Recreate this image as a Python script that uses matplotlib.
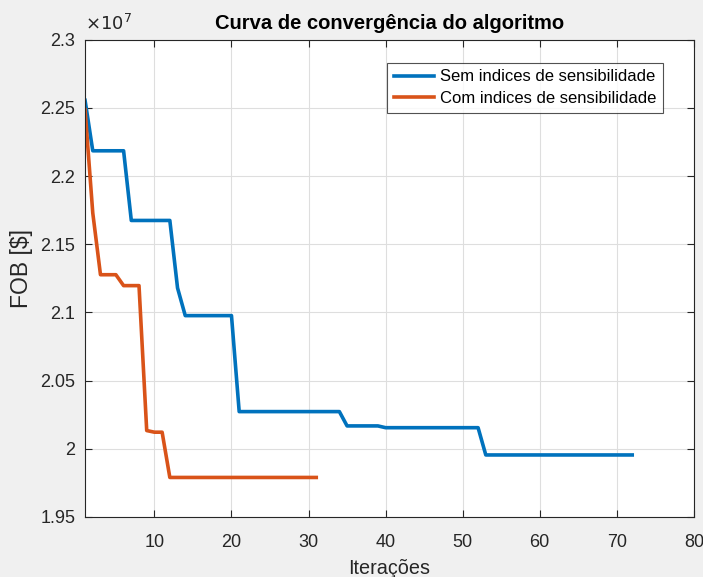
import numpy as np
import matplotlib
matplotlib.use("Agg")
import matplotlib.pyplot as plt
from matplotlib.ticker import FuncFormatter

plt.rcParams['font.family'] = ['Liberation Sans', 'DejaVu Sans']

# Sem indices de sensibilidade (x 1e7)
sem_x = np.arange(1, 73)
sem_y = np.array([2.2556] + [2.2186]*5 + [2.1675]*6 + [2.1180] + [2.0977]*7
                 + [2.0273]*14 + [2.0168]*5 + [2.0155]*13 + [1.9955]*20) * 1e7

# Com indices de sensibilidade (x 1e7)
com_x = np.arange(1, 32)
com_y = np.array([2.2487, 2.1730] + [2.1277]*3 + [2.1197]*3 + [2.0134]
                 + [2.0122]*2 + [1.9790]*20) * 1e7

xticks = [10, 20, 30, 40, 50, 60, 70, 80]
yticks = np.array([1.95, 2.0, 2.05, 2.1, 2.15, 2.2, 2.25, 2.3]) * 1e7

fig = plt.figure(figsize=(7.03, 5.77), dpi=100, facecolor='#f0f0f0')
ax = fig.add_axes([0.121, 0.104, 0.866, 0.827])

ax.plot(sem_x, sem_y, color='#0072BD', lw=2.6, label='Sem indices de sensibilidade')
ax.plot(com_x, com_y, color='#D95319', lw=2.6, label='Com indices de sensibilidade')

ax.set_xlim(1, 80)
ax.set_ylim(1.95e7, 2.3e7)
ax.set_xticks(xticks)
ax.set_yticks(yticks)
ax.yaxis.set_major_formatter(FuncFormatter(lambda v, p: '%g' % round(v / 1e7, 4)))
ax.tick_params(direction='in', top=True, right=True, labelsize=13,
               colors='#262626', length=5, width=0.8)
ax.tick_params(axis='y', pad=7)
ax.tick_params(axis='x', pad=12)
ax.grid(True, color='#dedede', lw=0.8)
for s in ax.spines.values():
    s.set_color('#262626')
    s.set_linewidth(0.8)

ax.set_title('Curva de convergência do algoritmo', fontsize=14.5, fontweight='bold', pad=8)
ax.set_xlabel('Iterações', fontsize=14.3, color='#262626', labelpad=6)
ax.set_ylabel('FOB [$]', fontsize=16.5, color='#262626')
ax.yaxis.set_label_coords(-0.085, 0.52)
ax.text(0.0, 1.012, r'$\times10^{7}$', transform=ax.transAxes, fontsize=13,
        color='#262626', ha='left', va='bottom')

leg = ax.legend(loc='upper right', bbox_to_anchor=(0.949, 0.952), fontsize=12,
                fancybox=False, edgecolor='#262626', handlelength=2.4,
                handletextpad=0.35, borderpad=0.4, labelspacing=0.4,
                borderaxespad=0)
leg.get_frame().set_linewidth(0.8)

fig.savefig('out.png', dpi=100, facecolor=fig.get_facecolor())
